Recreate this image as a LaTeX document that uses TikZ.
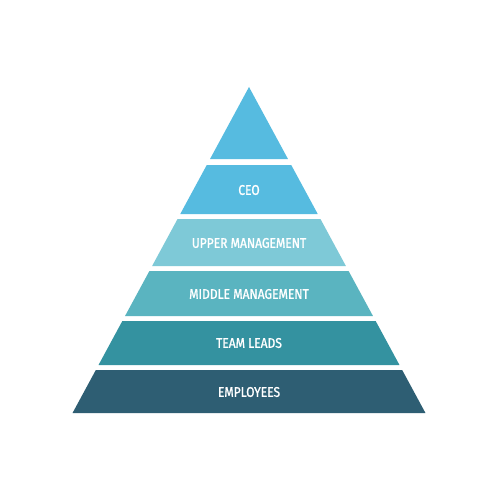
\documentclass[tikz,border=0pt]{standalone}
\usepackage{fontspec}
\setmainfont{Fira Sans}[FakeStretch=0.86,FakeBold=1.2]
\definecolor{cA}{RGB}{86,187,224}
\definecolor{cB}{RGB}{126,201,215}
\definecolor{cC}{RGB}{90,180,192}
\definecolor{cD}{RGB}{52,146,160}
\definecolor{cE}{RGB}{46,94,115}
\tikzset{lab/.style={text=white,font=\fontsize{14}{15}\selectfont,inner sep=0pt,anchor=center}}
\begin{document}
\begin{tikzpicture}[x=1pt,y=-1pt]
\fill[white] (0,0) rectangle (500,500);
\useasboundingbox (0,0) rectangle (500,500);
\def\ax{249}\def\ay{87}\def\k{0.54128}
% apex triangle
\pgfmathsetmacro{\hw}{(159-\ay)*\k}
\fill[cA] (\ax,\ay) -- (\ax+\hw,159) -- (\ax-\hw,159) -- cycle;
\foreach \t/\b/\c in {165/214/cA,219/266/cB,271/316/cC,321/365/cD,370/413/cE}{
  \pgfmathsetmacro{\ht}{(\t-\ay)*\k}
  \pgfmathsetmacro{\hb}{(\b-\ay)*\k}
  \fill[\c] (\ax-\ht,\t) -- (\ax+\ht,\t) -- (\ax+\hb,\b) -- (\ax-\hb,\b) -- cycle;
}
\node[lab] (ceo) at (\ax,190) {CEO};
\node[lab] (upper) at (\ax,243) {UPPER MANAGEMENT};
\node[lab] (middle) at (\ax,294) {MIDDLE MANAGEMENT};
\node[lab] (team) at (\ax,343) {TEAM LEADS};
\node[lab] (emp) at (\ax,392) {EMPLOYEES};
\end{tikzpicture}
\end{document}
